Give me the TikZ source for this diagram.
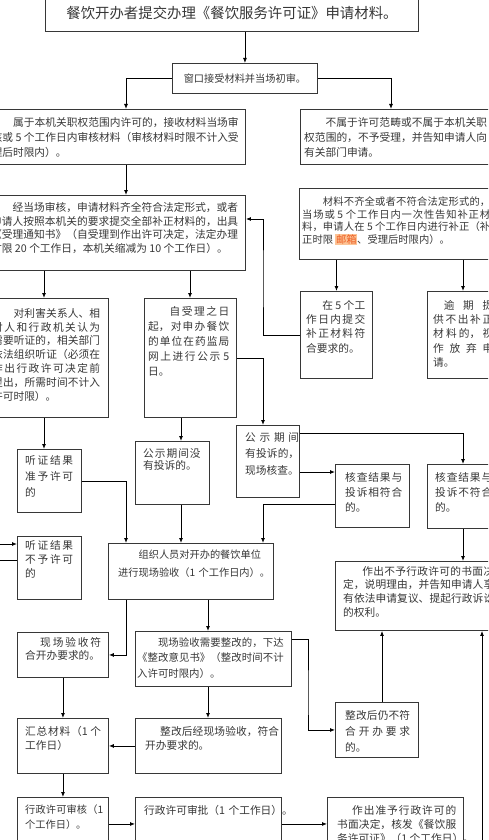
\documentclass[tikz,border=0pt]{standalone}
\usepackage{fontspec}
\usetikzlibrary{arrows.meta}
\newfontfamily\cjk{Noto Sans CJK SC}
\XeTeXlinebreaklocale "zh"
\XeTeXlinebreakskip=0pt plus 3pt
\setlength\parindent{0pt}
\tolerance=10000
\hbadness=10000
\hfuzz=50pt
\definecolor{framegray}{RGB}{55,55,55}
\definecolor{inkgray}{RGB}{55,55,55}
\definecolor{mailred}{RGB}{238,92,34}
\definecolor{mailbg}{RGB}{252,196,150}
\newcommand\cn[2]{\cjk\fontsize{#1}{#2}\selectfont}
\newcommand\mailmark[1]{{\setlength\fboxsep{0.6pt}\colorbox{mailbg}{\textcolor{mailred}{#1}}}}
\newcommand\flowbox[5]{\node[frame, minimum width={(#4)-(#2)}, minimum height={(#5)-(#3)}] (#1) at (#2,#3) {};}
\tikzset{
  frame/.style={draw=framegray, line width=0.9pt, inner sep=0pt, anchor=north west},
  txt/.style={inner sep=0pt, anchor=north west, text=inkgray, align=justify},
  arr/.style={draw=black, line width=0.9pt, -{Latex[length=5pt,width=4pt]}},
  link/.style={draw=black, line width=0.9pt},
}
\begin{document}
\begin{tikzpicture}[x=1pt,y=-1pt]
\useasboundingbox (0,0) rectangle (488,840);
\fill[white] (0,0) rectangle (488,840);
\clip (0,0) rectangle (488,840);

\node[frame, minimum width=373, minimum height=36, font=\cn{14.4}{17}, text=inkgray] (title) at (45,-5) {餐饮开办者提交办理《餐饮服务许可证》申请材料。};
\node[frame, minimum width=145, minimum height=30, font=\cn{10.2}{12}, text=inkgray] (win) at (172,63) {窗口接受材料并当场初审。};

\flowbox{accept}{-13}{109}{245}{164}
\node[txt, text width=247, font=\cn{10.7}{15}] (accept-t) at (-8.5,117) {\hspace*{2em}属于本机关职权范围内许可的，接收材料当场审\linebreak 核或 5 个工作日内审核材料（审核材料时限不计入受\linebreak 理后时限内）。};
\flowbox{reject}{300}{109}{500}{164}
\node[txt, text width=183, font=\cn{10.7}{15}] (reject-t) at (304,117) {\hspace*{2em}不属于许可范畴或不属于本机关职\linebreak 权范围的，不予受理，并告知申请人向\linebreak 有关部门申请。};

\flowbox{check}{-13}{195}{245}{270}
\node[txt, text width=247, font=\cn{10.7}{13.7}] (check-t) at (-9,202) {\hspace*{2em}经当场审核，申请材料齐全符合法定形式，或者\linebreak 申请人按照本机关的要求提交全部补正材料的，出具\linebreak 《受理通知书》（自受理到作出许可决定，法定办理\linebreak 时限 20 个工作日，本机关缩减为 10 个工作日）。};
\flowbox{incomplete}{299}{188}{510}{259}
\node[txt, text width=188, font=\cn{10.3}{12.5}] (incomplete-t) at (302,197) {\hspace*{2em}材料不齐全或者不符合法定形式的，\linebreak 当场或 5 个工作日内一次性告知补正材\linebreak 料，申请人在 5 个工作日内进行补正（补\linebreak 正时限 \mailmark{邮箱}、受理后时限内）。};

\flowbox{hearing}{-13}{298}{108}{417}
\node[txt, text width=108, font=\cn{10.7}{13.8}] (hearing-t) at (-8,308) {\hspace*{2em}对利害关系人、相\linebreak 对人和行政机关认为\linebreak 需要听证的，相关部门\linebreak 依法组织听证（必须在\linebreak 作出行政许可决定前\linebreak 提出，所需时间不计入\linebreak 许可时限）。};
\flowbox{publicize}{144}{298}{236}{417}
\node[txt, text width=81, font=\cn{10.7}{15}] (publicize-t) at (148,306) {\hspace*{2em}自受理之日\linebreak 起，对申办餐饮\linebreak 的单位在药监局\linebreak 网上进行公示 5\linebreak 日。};
\flowbox{supplement}{300}{291}{372}{378}
\node[txt, text width=59, font=\cn{10.7}{14.3}] (supplement-t) at (306,300) {\hspace*{1.5em}在 5 个工\linebreak 作日内提交\linebreak 补正材料符\linebreak 合要求的。};
\flowbox{giveup}{427}{291}{503}{378}
\node[txt, text width=60, font=\cn{10.7}{14.3}] (giveup-t) at (433,300) {\hspace*{1em}逾期提\linebreak 供不出补正\linebreak 材料的，视\linebreak 作放弃申\linebreak 请。};

\flowbox{hearok}{17}{449}{81}{512}
\node[txt, text width=48, font=\cn{10.7}{16}] (hearok-t) at (25,455) {听证结果\linebreak 准予许可\linebreak 的};
\flowbox{nocomp}{135}{441}{209}{504}
\node[txt, text width=57.5, font=\cn{10.7}{12.5}] (nocomp-t) at (143,448) {公示期间没\linebreak 有投诉的。};
\flowbox{comp}{236}{425}{299}{497}
\node[txt, text width=54, font=\cn{10.7}{16.5}] (comp-t) at (245,432) {公示期间\linebreak 有投诉的，\linebreak 现场核查。};
\flowbox{match}{335}{464}{409}{527}
\node[txt, text width=57, font=\cn{10.7}{15}] (match-t) at (345,472) {核查结果与\linebreak 投诉相符合\linebreak 的。};
\flowbox{nomatch}{427}{464}{510}{528}
\node[txt, text width=57, font=\cn{10.7}{15}] (nomatch-t) at (435,472) {核查结果与\linebreak 投诉不符合\linebreak 的。};

\flowbox{hearno}{17}{536}{81}{599}
\node[txt, text width=48, font=\cn{10.7}{14}] (hearno-t) at (25,540) {听证结果\linebreak 不予许可\linebreak 的};
\flowbox{inspect}{108}{543}{273}{599}
\node[txt, text width=160, align=left, font=\cn{10.2}{18}] (inspect-t) at (118,550) {\hspace*{2em}组织人员对开办的餐饮单位\\进行现场验收（1 个工作日内）。};
\flowbox{deny}{335}{561}{510}{630}
\node[txt, text width=151, font=\cn{10.7}{13.7}] (deny-t) at (343,566) {\hspace*{1.8em}作出不予行政许可的书面决\linebreak 定，说明理由，并告知申请人享\linebreak 有依法申请复议、提起行政诉讼\linebreak 的权利。};

\flowbox{siteok}{17}{632}{108}{677}
\node[txt, text width=76, font=\cn{10.7}{13}] (siteok-t) at (25,637) {\hspace*{1.4em}现场验收符\linebreak 合开办要求的。};
\flowbox{rectify}{135}{631}{291}{686}
\node[txt, text width=146.5, font=\cn{10.4}{15.8}] (rectify-t) at (137,637) {\hspace*{2em}现场验收需要整改的，下达\linebreak 《整改意见书》（整改时间不计\linebreak 入许可时限内）。};
\flowbox{fixno}{335}{702}{418}{757}
\node[txt, text width=65, font=\cn{10.7}{16}] (fixno-t) at (345,710) {整改后仍不符\linebreak 合开办要求\linebreak 的。};

\flowbox{summary}{17}{718}{108}{773}
\node[txt, text width=76, font=\cn{10.7}{14}] (summary-t) at (25,726) {汇总材料（1 个\linebreak 工作日）};
\flowbox{fixok}{135}{718}{281}{773}
\node[txt, text width=134, font=\cn{10.7}{14}] (fixok-t) at (145,726) {\hspace*{1.4em}整改后经现场验收，符合\linebreak 开办要求的。};

\flowbox{review}{17}{797}{108}{850}
\node[txt, text width=78, font=\cn{10.2}{15}] (review-t) at (25,805) {行政许可审核（1\linebreak 个工作日）。};
\flowbox{approve}{135}{797}{281}{850}
\node[txt, text width=140, align=left, font=\cn{10.7}{15}] (approve-t) at (144,805) {\mbox{行政许可审批（1 个工作日）。}};
\flowbox{grant}{327}{797}{463}{850}
\node[txt, text width=119, font=\cn{10.7}{14}] (grant-t) at (337,805) {\hspace*{1.4em}作出准予行政许可的\linebreak 书面决定，核发《餐饮服\linebreak \mbox{务许可证》（1 个工作日）。}};

\coordinate (colA) at (126,0);
\coordinate (colB) at (391,0);
\coordinate (colC) at (263,280);
\coordinate (colD) at (44,0);
\coordinate (colE) at (463,0);
\coordinate (colF) at (190,0);
\coordinate (colG) at (181,0);
\coordinate (colH) at (208,0);
\coordinate (colI) at (308,700);
\coordinate (colJ) at (382,0);
\coordinate (inL) at (-10,544);
\coordinate (outL) at (-10,560);
\coordinate (fromB) at (482,850);

\draw[arr] (title.south -| win.north) -- (win.north);
\draw[arr] (win.west) -| (colA |- accept.north);
\draw[arr] (win.east) -| (colB |- reject.north);
\draw[arr] (colA |- accept.south) -- (colA |- check.north);
\draw[arr] (incomplete.south -| supplement.north) -- (supplement.north);
\draw[arr] (colE |- incomplete.south) -- (colE |- giveup.north);
\draw[arr] (supplement.west) -| (colC) |- ([yshift=-24]check.north east);
\draw[arr] (colD |- check.south) -- (colD |- hearing.north);
\draw[arr] (colF |- check.south) -- (colF |- publicize.north);
\draw[arr] (publicize.east) -| (colC |- comp.north);
\draw[arr] (colD |- hearing.south) -- (colD |- hearok.north);
\draw[arr] (colG |- publicize.south) -- (colG |- nocomp.north);
\draw[arr] (hearok.east) -| (colA |- inspect.north);
\draw[arr] (colG |- nocomp.south) -- (colG |- inspect.north);
\draw[arr] ([yshift=-8]comp.north east) -| (colE |- nomatch.north);
\draw[arr] ([yshift=-8]match.north west -| comp.east) -- ([yshift=-8]match.north west);
\draw[arr] ([yshift=-40]match.north west) -| (colC |- inspect.north);
\draw[arr] (colE |- nomatch.south) -- (colE |- deny.north);
\draw[arr] (inL) -- (inL -| hearno.west);
\draw[link] (outL -| hearno.west) -- (outL);
\draw[arr] (colA |- inspect.south) |- (siteok.east);
\draw[arr] (colH |- inspect.south) -- (colH |- rectify.north);
\draw[arr] ([yshift=-8]rectify.north east) -| (colI) |- (fixno.west);
\draw[arr] (siteok.south) -- (summary.north);
\draw[arr] (colH |- rectify.south) -- (colH |- fixok.north);
\draw[arr] (fixok.west) -- (summary.east);
\draw[arr] (colJ |- fixno.north) -- (colJ |- deny.south);
\draw[arr] (fromB) -- (fromB |- deny.south);
\draw[arr] (summary.south) -- (review.north);
\draw[arr] (review.east) -- (approve.west);
\draw[arr] (approve.east) -- (grant.west);
\end{tikzpicture}
\end{document}
